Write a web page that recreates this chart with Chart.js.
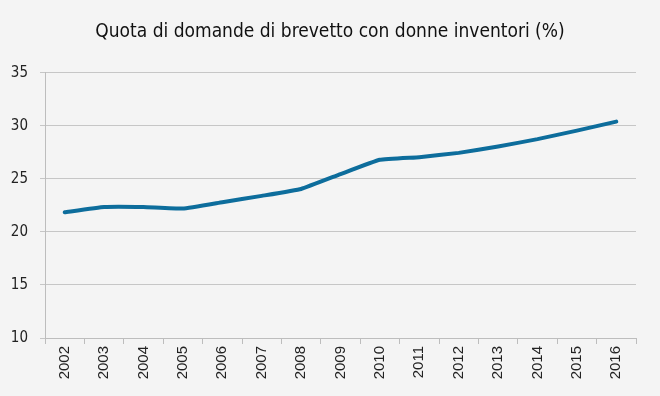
<!DOCTYPE html>
<html>
<head>
<meta charset="utf-8">
<script src="https://cdn.jsdelivr.net/npm/chart.js@4/dist/chart.umd.min.js"></script>
<style>
  html, body { margin: 0; padding: 0; background: #f4f4f4; }
  #wrap { width: 660px; height: 396px; }
</style>
</head>
<body>
<div id="wrap"><canvas id="myChart" width="660" height="396"></canvas></div>
<script>
var years = ['2002', '2003', '2004', '2005', '2006', '2007', '2008', '2009', '2010', '2011', '2012', '2013', '2014', '2015', '2016'];
var quota = [21.85, 22.35, 22.35, 22.2, 22.8, 23.4, 24.05, 25.45, 26.8, 27.05, 27.45, 28.05, 28.75, 29.55, 30.4];
var yTicks = [10, 15, 20, 25, 30, 35];
var narrow = "'DejaVu Sans Condensed', 'Liberation Sans Narrow', 'Roboto', sans-serif";

// centre the title on the whole canvas, not on the padded area
var centreTitle = {
    id: 'centreTitle',
    afterLayout: function (chart) {
        var tb = chart.titleBlock;
        if (tb) { tb.left = 0; tb.right = chart.width; tb.width = chart.width; }
    }
};

var ctx = document.getElementById('myChart').getContext('2d');
var myChart = new Chart(ctx, {
    type: 'line',
    data: {
        labels: years,
        datasets: [{
            label: 'Quota',
            data: quota,
            borderColor: '#0d6d9c',
            borderWidth: 4,
            pointRadius: 0,
            tension: 0.1,
            borderCapStyle: 'round',
            fill: false
        }]
    },
    options: {
        responsive: false,
        animation: false,
        layout: {
            padding: { left: 0, right: 24, top: 0, bottom: 0 }
        },
        plugins: {
            legend: { display: false },
            tooltip: { enabled: false },
            title: {
                display: true,
                text: 'Quota di domande di brevetto con donne inventori (%)',
                color: '#111',
                font: { family: narrow, size: 19, weight: 'normal' },
                padding: { top: 21, bottom: 29 }
            }
        },
        scales: {
            x: {
                offset: true,
                afterFit: function (axis) { axis.height = 58; },
                grid: {
                    offset: true,
                    drawOnChartArea: false,
                    color: '#bdbdbd',
                    tickLength: 6
                },
                border: { color: '#bdbdbd' },
                ticks: {
                    minRotation: 90,
                    maxRotation: 90,
                    color: '#222',
                    padding: 2,
                    font: { family: "'Liberation Sans', Arial, sans-serif", size: 15 }
                }
            },
            y: {
                min: 10,
                max: 35,
                afterBuildTicks: function (axis) {
                    axis.ticks = yTicks.map(function (v) { return { value: v }; });
                },
                afterFit: function (axis) { axis.width = 45; },
                grid: {
                    color: '#c6c6c6',
                    tickLength: 5
                },
                border: { color: '#bdbdbd' },
                ticks: {
                    color: '#222',
                    padding: 12,
                    font: { family: narrow, size: 15 }
                }
            }
        }
    },
    plugins: [centreTitle]
});
</script>
</body>
</html>
